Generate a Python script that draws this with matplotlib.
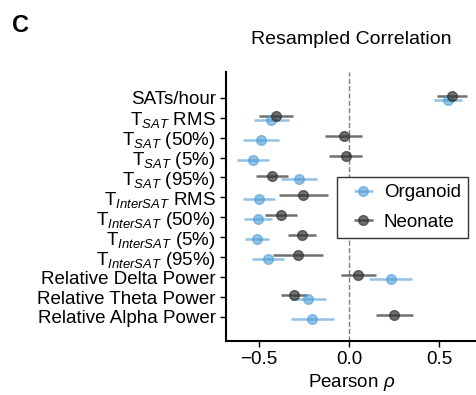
import numpy as np
import matplotlib.pyplot as plt

plt.rcParams['font.family'] = ['Liberation Sans', 'DejaVu Sans']
plt.rcParams['mathtext.fontset'] = 'custom'
plt.rcParams['mathtext.rm'] = 'Liberation Sans'
plt.rcParams['mathtext.it'] = 'Liberation Sans:italic'

features = ['SATs/hour', 'T$_{SAT}$ RMS', 'T$_{SAT}$ (50%)', 'T$_{SAT}$ (5%)',
            'T$_{SAT}$ (95%)', 'T$_{InterSAT}$ RMS', 'T$_{InterSAT}$ (50%)',
            'T$_{InterSAT}$ (5%)', 'T$_{InterSAT}$ (95%)', 'Relative Delta Power',
            'Relative Theta Power', 'Relative Alpha Power']

organoid = [0.548, -0.433, -0.491, -0.533, -0.278, -0.500, -0.506, -0.511, -0.452, 0.230, -0.228, -0.204]
organoid_err = [0.079, 0.097, 0.099, 0.089, 0.102, 0.087, 0.078, 0.068, 0.088, 0.118, 0.097, 0.119]
neonate = [0.570, -0.407, -0.031, -0.020, -0.428, -0.254, -0.378, -0.261, -0.285, 0.052, -0.306, 0.250]
neonate_err = [0.083, 0.093, 0.101, 0.092, 0.089, 0.135, 0.091, 0.079, 0.139, 0.099, 0.074, 0.102]

y = np.arange(len(features))
fs = 13.5

fig = plt.figure(figsize=(4.77, 3.95), dpi=100)
ax = fig.add_axes([0.474, 0.137, 0.526, 0.681])

ax.axvline(0, color='gray', linestyle='--', linewidth=1)
ax.errorbar(organoid, y + 0.1, xerr=organoid_err, fmt='o', color='#4a9bd6', alpha=0.6,
            markersize=7, elinewidth=1.8, label='Organoid')
ax.errorbar(neonate, y - 0.1, xerr=neonate_err, fmt='o', color='#333333', alpha=0.7,
            markersize=7, elinewidth=1.8, label='Neonate')

ax.set_yticks(y)
ax.set_yticklabels(features, fontsize=fs)
ax.set_ylim(len(features) - 1 + 1.2, -1.3)
ax.set_xlim(-0.683, 0.71)
ax.set_xticks([-0.5, 0.0, 0.5])
ax.set_xticklabels(['\u22120.5', '0.0', '0.5'], fontsize=fs)
ax.set_xlabel(r'Pearson $\rho$', fontsize=fs, labelpad=3)
ax.set_title('Resampled Correlation', fontsize=14, pad=20)

for s in ['top', 'right']:
    ax.spines[s].set_visible(False)
for s in ['left', 'bottom']:
    ax.spines[s].set_linewidth(1.5)
ax.tick_params(length=4, width=1)

leg = ax.legend(loc='upper left', bbox_to_anchor=(0.442, 0.61), borderaxespad=0,
                fontsize=fs, fancybox=False, edgecolor='#333333', framealpha=1,
                handlelength=2.0, handletextpad=0.1, labelspacing=0.65)
leg.get_frame().set_linewidth(1)

fig.text(0.025, 0.919, 'C', fontsize=17, fontweight='bold')

plt.savefig('out.png', dpi=100)
